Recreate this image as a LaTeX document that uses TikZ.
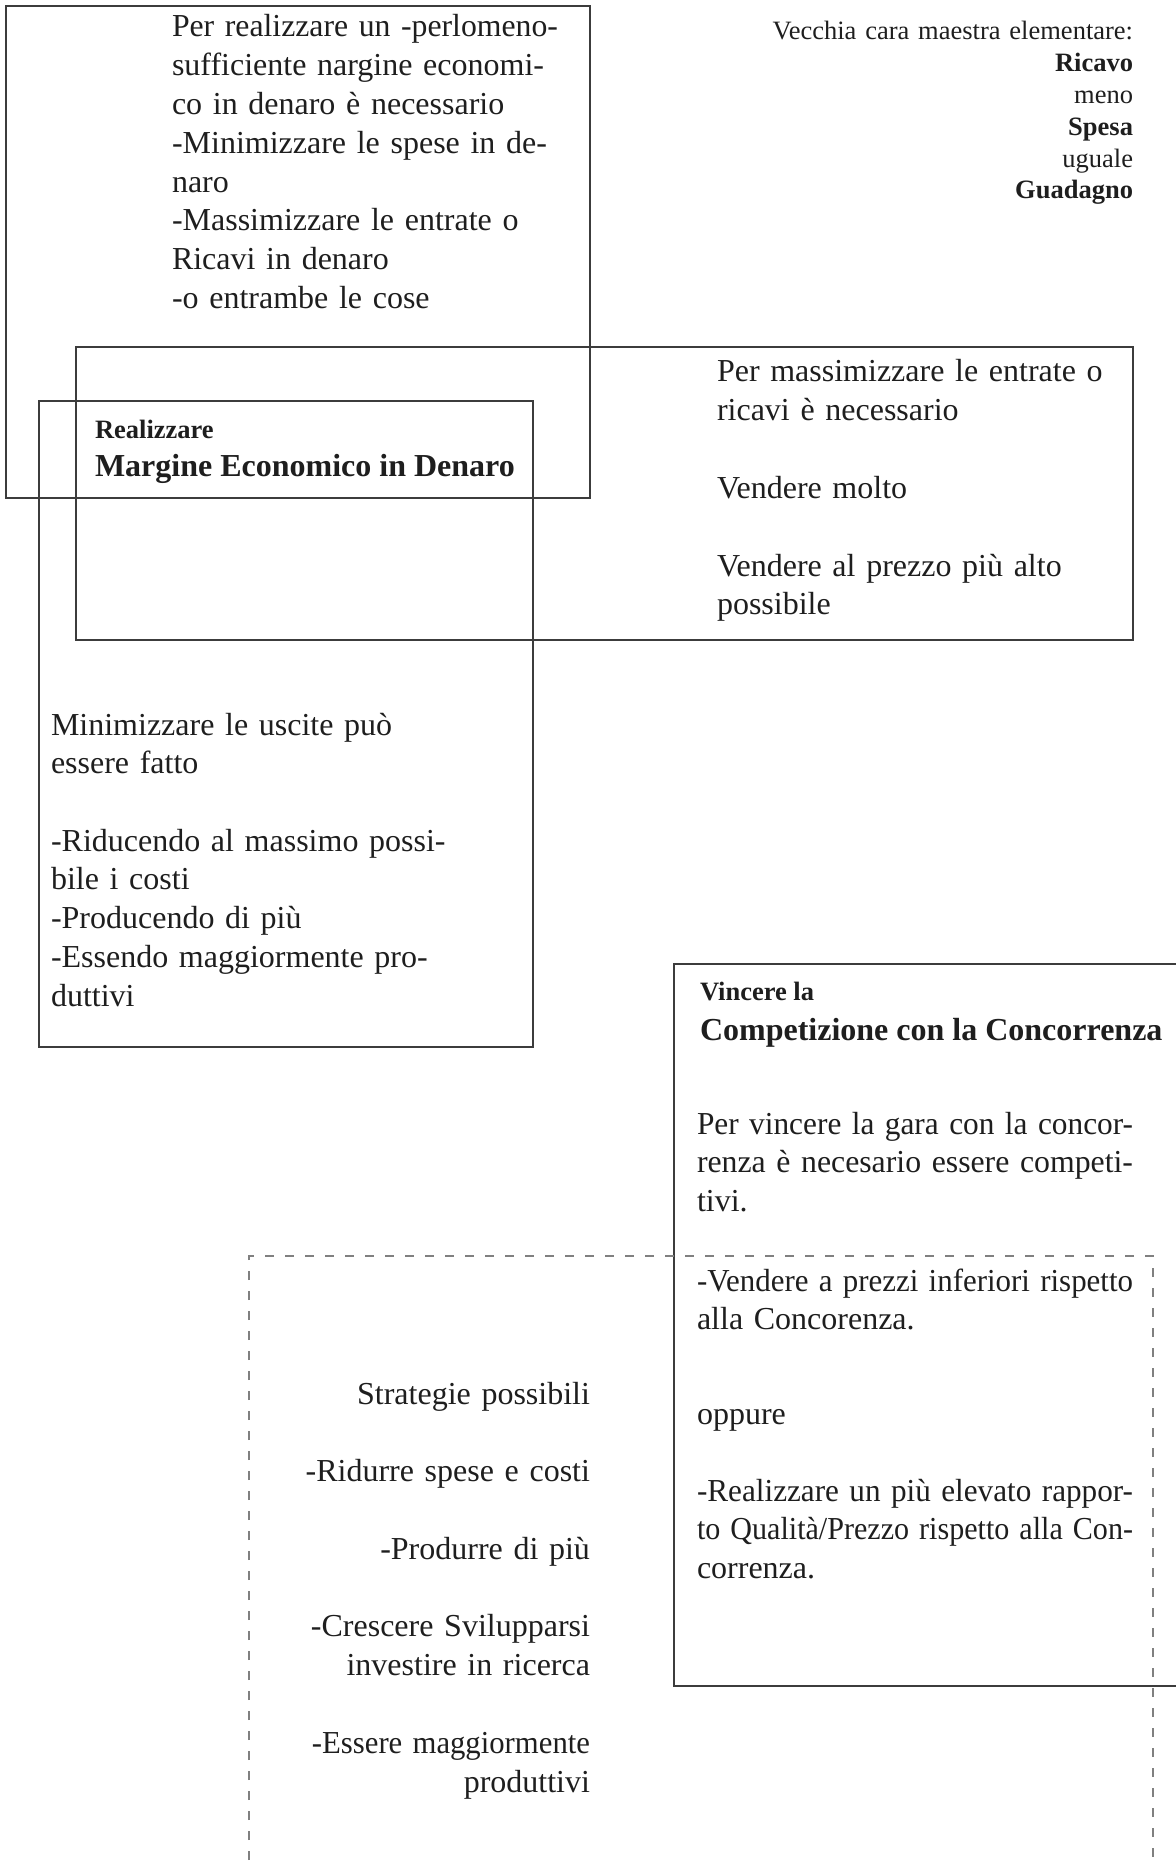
\documentclass[tikz,border=0pt]{standalone}
\usepackage{graphicx}
\usepackage{fontspec}
\setmainfont{Liberation Serif}
\definecolor{boxline}{HTML}{3C3C3C}
\definecolor{dashline}{HTML}{808080}
\definecolor{ink}{HTML}{1E1E1E}
\newcommand\jl[1]{\sbox0{#1}\ifdim\wd0>\linewidth\resizebox{\linewidth}{\height}{#1}\else\makebox[\linewidth][s]{#1}\fi}
\begin{document}
\begin{tikzpicture}[x=0.5pt,y=-0.5pt,
  box/.style={draw=boxline, line width=0.7pt},
  dbox/.style={draw=dashline, line width=0.6pt, dash pattern=on 4.5pt off 5.5pt},
  txt/.style={inner sep=0pt, outer sep=0pt, text=ink, font=\fontsize{16}{19.4}\selectfont},
  txtb/.style={inner sep=0pt, outer sep=0pt, text=ink, font=\fontsize{16}{19.4}\selectfont\bfseries},
  small/.style={inner sep=0pt, outer sep=0pt, text=ink, font=\fontsize{13.25}{15.9}\selectfont},
  smallb/.style={inner sep=0pt, outer sep=0pt, text=ink, font=\fontsize{13.25}{15.9}\selectfont\bfseries}]
\useasboundingbox (0,0) rectangle (1176,1861);
\clip (0,0) rectangle (1176,1861);
% boxes
\draw[box] (6,6) rectangle (590,498);
\draw[box] (76,347) rectangle (1133,640);
\draw[box] (39,401) rectangle (533,1047);
\draw[box] (674,964) rectangle (1200,1686);
\draw[dbox] (249,1900) -- (249,1256) -- (1153,1256) -- (1153,1900);
% texts
\node[txt, anchor=base west, text width=193pt, align=left] (pA) at (172,37)
  {\jl{Per realizzare un -perlomeno-}\\ \jl{sufficiente nargine economi-}\\ co in denaro è necessario\\ \jl{-Minimizzare le spese in de-}\\ naro\\ \jl{-Massimizzare le entrate o}\\ Ricavi in denaro\\ -o entrambe le cose};
\node[small, anchor=base east, text width=200pt, align=right] (pR) at (1133,40)
  {Vecchia cara maestra elementare:\\ \textbf{Ricavo}\\ meno\\ \textbf{Spesa}\\ uguale\\ \textbf{Guadagno}};
\node[txt, anchor=base west, text width=210pt, align=left] (pB) at (717,382)
  {Per massimizzare le entrate o\\ ricavi è necessario\\[19.4pt] Vendere molto\\[19.4pt] Vendere al prezzo più alto\\ possibile};
\node[smallb, anchor=base west] (tC1) at (95,439) {Realizzare};
\node[txtb, anchor=base west] (tC2) at (95,476) {Margine Economico in Denaro};
\node[txt, anchor=base west, text width=200pt, align=left] (pC) at (51,735)
  {Minimizzare le uscite può\\ essere fatto\\[19.2pt] -Riducendo al massimo possi-\\ bile i costi\\ -Producendo di più\\ -Essendo maggiormente pro-\\ duttivi};
\node[smallb, anchor=base west] (tD1) at (700,1000) {Vincere la};
\node[txtb, anchor=base west] (tD2) at (700,1040) {Competizione con la Concorrenza};
\node[txt, anchor=base west, text width=218pt, align=left] (pD1) at (697,1134)
  {\jl{Per vincere la gara con la concor-}\\ \jl{renza è necesario essere competi-}\\ tivi.};
\node[txt, anchor=base west, text width=218pt, align=left] (pD2) at (697,1291)
  {\jl{-Vendere a prezzi inferiori rispetto}\\ alla Concorenza.};
\node[txt, anchor=base west] (pD3) at (697,1424) {oppure};
\node[txt, anchor=base west, text width=218pt, align=left] (pD4) at (697,1501)
  {\jl{-Realizzare un più elevato rappor-}\\ \jl{to Qualità/Prezzo rispetto alla Con-}\\ correnza.};
\node[txt, anchor=base east, text width=200pt, align=right] (pE) at (590,1404)
  {Strategie possibili\\[19.4pt] -Ridurre spese e costi\\[19.4pt] -Produrre di più\\[19.4pt] -Crescere Svilupparsi\\ investire in ricerca\\[19.4pt] \resizebox{139pt}{\height}{-Essere maggiormente}\\ produttivi};
\end{tikzpicture}
\end{document}
